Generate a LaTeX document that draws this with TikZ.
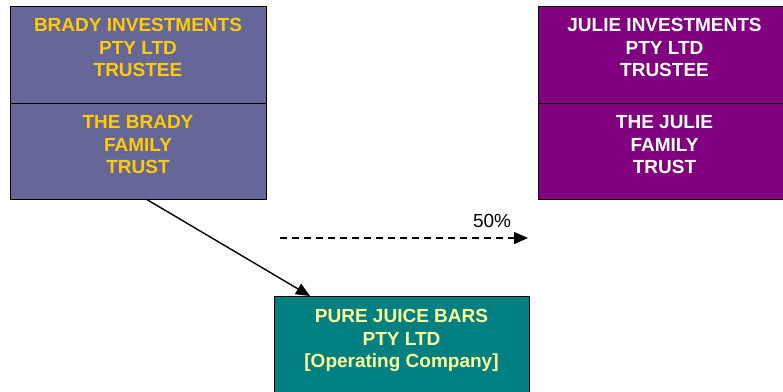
\documentclass[tikz,border=0pt]{standalone}
\usepackage{fontspec}
\setmainfont{Liberation Sans}
\usepackage{tikz}
\usetikzlibrary{arrows.meta}
\definecolor{bradyBlue}{HTML}{666699}
\definecolor{bradyGold}{HTML}{FFCC00}
\definecolor{juliePurple}{HTML}{800080}
\definecolor{juiceTeal}{HTML}{008080}
\definecolor{juiceYellow}{HTML}{FFFF99}
\tikzset{
box/.style = {rectangle, draw=black, line width=1pt, minimum width = #1,
              inner sep=0pt, outer sep=0pt, anchor=north west},
box/.default = 256pt % width of the box
}
\tikzset{
boxText/.style = {anchor=north, align=center, inner sep=0pt, yshift=-12.5pt,
                  font=\fontsize{19}{22.5}\selectfont\bfseries}
}
\tikzset{
link/.style = {line width=1.4pt, -{Triangle[length=14pt, width=12pt]}}
}

\begin{document}
\begin{tikzpicture}[x=1pt, y=-1pt]
    \clip (0,0) rectangle (783,391);

    \node[box, minimum height=97pt, fill=bradyBlue,
          label={[boxText, text=bradyGold]north:{BRADY INVESTMENTS\\PTY LTD\\TRUSTEE}}] (bradyTrustee) at (10,6) {};
    \node[box, minimum height=96pt, fill=bradyBlue,
          label={[boxText, text=bradyGold]north:{THE BRADY\\FAMILY\\TRUST}}] (bradyTrust) at (10,103) {};

    \node[box=253pt, minimum height=97pt, fill=juliePurple,
          label={[boxText, text=white]north:{JULIE INVESTMENTS\\PTY LTD\\TRUSTEE}}] (julieTrustee) at (538,6) {};
    \node[box=253pt, minimum height=96pt, fill=juliePurple,
          label={[boxText, text=white]north:{THE JULIE\\FAMILY\\TRUST}}] (julieTrust) at (538,103) {};

    \node[box=255pt, minimum height=110pt, fill=juiceTeal,
          label={[boxText, text=juiceYellow, yshift=-1pt]north:{PURE JUICE BARS\\PTY LTD\\{[}Operating Company{]}}}] (juiceBars) at (274,296) {};

    \draw[link] ([xshift=8pt]bradyTrust.south) -- ([xshift=-91.5pt]juiceBars.north);

    \coordinate (shareStart) at (280,238);
    \coordinate (shareEnd) at (528,238);
    \draw[link, dash pattern=on 7pt off 5pt] (shareStart) -- node[pos=0.855, above=9.5pt, inner sep=0pt, font=\fontsize{19}{22.5}\selectfont] {50\%} (shareEnd);
\end{tikzpicture}
\end{document}
